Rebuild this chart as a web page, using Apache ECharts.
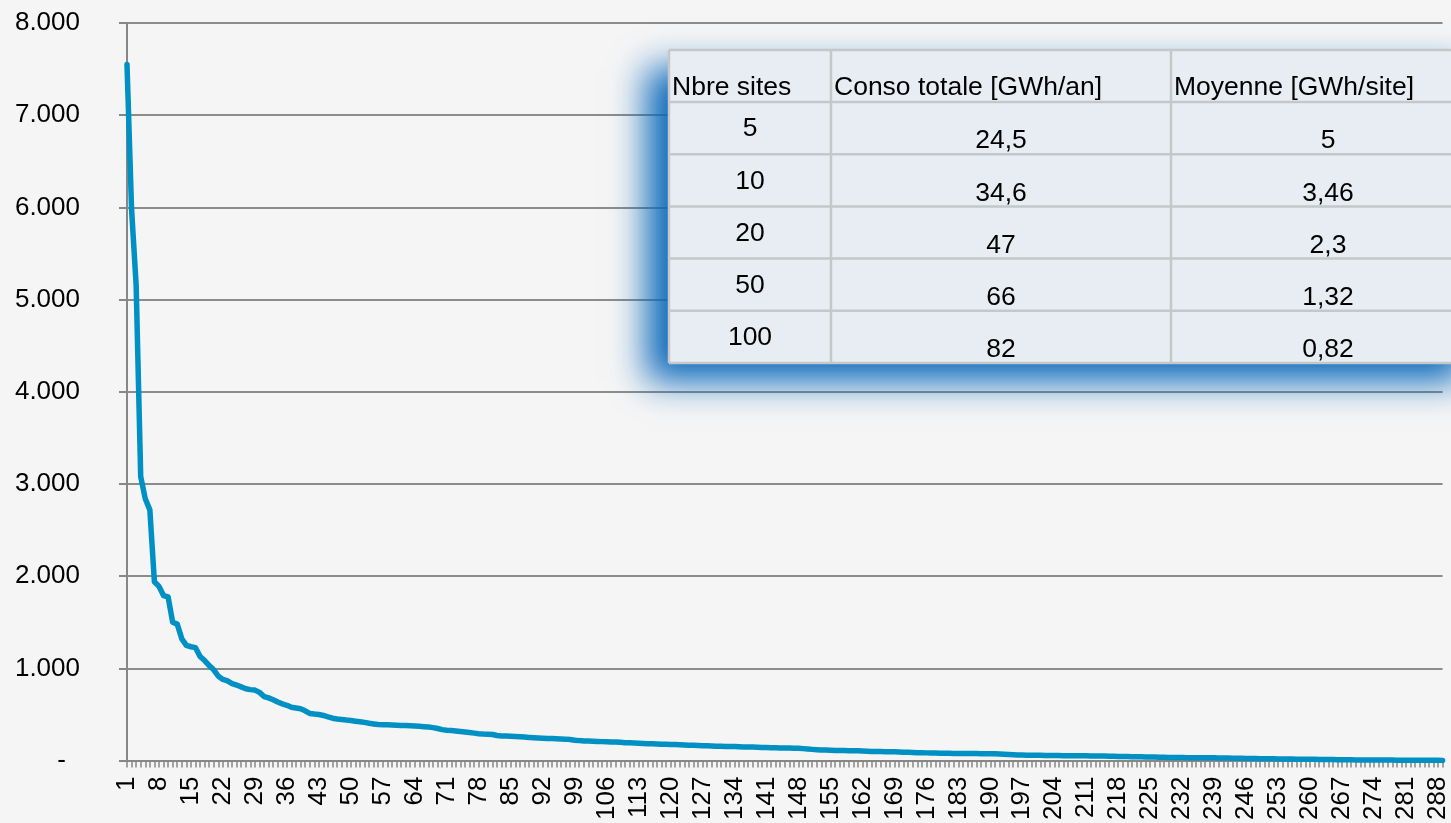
<!DOCTYPE html>
<html>
<head>
<meta charset="utf-8">
<title>Consommation par site</title>
<script src="https://cdn.jsdelivr.net/npm/echarts@6/dist/echarts.min.js"></script>
<style>
  html, body { margin: 0; padding: 0; background: #f5f5f5; }
  #chart { width: 1451px; height: 823px; }
</style>
</head>
<body>
<div id="chart"></div>
<script>
// Consumption per site, sorted in decreasing order (MWh/an)
const consoSites = [
  7550, 5980, 5160, 3080, 2840, 2720, 1940, 1890, 1790, 1775,
  1500, 1480, 1320, 1250, 1235, 1225, 1130, 1085, 1030, 985,
  915, 880, 865, 835, 820, 800, 780, 770, 765, 740,
  695, 680, 660, 635, 615, 600, 578, 570, 562, 540,
  512, 505, 500, 490, 475, 460, 452, 447, 440, 435,
  428, 422, 415, 405, 398, 392, 390, 388, 386, 384,
  382, 380, 378, 375, 372, 368, 364, 358, 348, 336,
  330, 326, 322, 316, 311, 305, 298, 292, 288, 286,
  283, 272, 268, 266, 264, 262, 259, 256, 252, 249,
  246, 243, 241, 239, 237, 235, 233, 228, 222, 217,
  214, 212, 210, 208, 206, 204, 203, 201, 198, 195,
  193, 191, 189, 186, 184, 182, 180, 178, 177, 176,
  174, 172, 170, 168, 166, 164, 162, 160, 159, 157,
  155, 154, 153, 152, 150, 149, 148, 147, 145, 143,
  141, 140, 139, 138, 137, 136, 135, 134, 130, 126,
  122, 119, 116, 114, 112, 111, 110, 109, 108, 107,
  106, 104, 102, 100, 99, 98, 97, 96, 95, 94,
  92, 90, 88, 86, 85, 84, 83, 82, 81, 80,
  79, 78, 78, 77, 77, 76, 76, 75, 75, 74,
  74, 72, 70, 67, 64, 62, 60, 59, 58, 57,
  57, 56, 56, 55, 55, 54, 54, 53, 53, 52,
  52, 51, 51, 50, 49, 48, 47, 46, 45, 44,
  43, 42, 41, 40, 39, 38, 37, 36, 35, 34,
  33, 33, 32, 32, 31, 31, 30, 30, 30, 29,
  29, 28, 27, 26, 25, 24, 23, 22, 21, 20,
  19, 19, 18, 18, 17, 17, 16, 16, 15, 15,
  14, 13, 12, 11, 11, 10, 10, 9, 9, 8,
  8, 8, 7, 7, 7, 6, 6, 6, 5, 5,
  5, 5, 4, 4, 4, 3, 3, 3, 2
];

// Site ranks used as categories (1 .. number of sites)
const rangs = consoSites.map((_, i) => String(i + 1));

// Summary table
const tableHeaders = ['Nbre sites', 'Conso totale [GWh/an]', 'Moyenne [GWh/site]'];
const nbreSites = ['5', '10', '20', '50', '100'];
const consoTotale = ['24,5', '34,6', '47', '66', '82'];
const moyenne = ['5', '3,46', '2,3', '1,32', '0,82'];

const FONT = '"Liberation Sans", Arial, Helvetica, sans-serif';
const AXIS_GREY = '#878787';

function fmtThousands(v) {
  if (v === 0) return '{dash|-}';
  return String(v).replace(/\B(?=(\d{3})+(?!\d))/g, '.');
}

// Table geometry
const tX = 669, tY = 50;
const colW = [162, 340, 314];
const headH = 52, rowH = 52.2;
const tW = colW.reduce((a, b) => a + b, 0);
const tH = headH + rowH * nbreSites.length;

function buildTable() {
  const els = [];
  els.push({
    type: 'rect', z: 100,
    shape: { x: tX, y: tY, width: tW, height: tH },
    style: {
      fill: '#e8edf3',
      shadowBlur: 34, shadowColor: '#0868bb',
      shadowOffsetX: -22, shadowOffsetY: 18
    }
  });
  const lineStyle = { stroke: '#c5c7c9', lineWidth: 2.5 };
  // horizontal rules
  for (let r = 0; r <= nbreSites.length + 1; r++) {
    const y = r === 0 ? tY : tY + headH + rowH * (r - 1);
    els.push({ type: 'line', z: 101, shape: { x1: tX, y1: y, x2: tX + tW, y2: y }, style: lineStyle });
  }
  // vertical rules
  let cx = tX;
  for (let c = 0; c <= colW.length; c++) {
    els.push({ type: 'line', z: 101, shape: { x1: cx, y1: tY, x2: cx, y2: tY + tH }, style: lineStyle });
    if (c < colW.length) cx += colW[c];
  }
  const colX = [tX, tX + colW[0], tX + colW[0] + colW[1]];
  const txt = (text, x, y, align) => ({
    type: 'text', z: 102,
    style: {
      text, x, y,
      font: '26.5px ' + FONT, fill: '#000',
      align, verticalAlign: 'middle',
      textAlign: align, textVerticalAlign: 'middle'
    }
  });
  tableHeaders.forEach((h, c) => els.push(txt(h, colX[c] + 3, tY + 38, 'left')));
  const cols = [nbreSites, consoTotale, moyenne];
  for (let r = 0; r < nbreSites.length; r++) {
    const top = tY + headH + rowH * r;
    cols.forEach((col, c) => {
      const yOff = c === 0 ? 27 : 39;
      els.push(txt(col[r], colX[c] + colW[c] / 2, top + yOff, 'center'));
    });
  }
  return els;
}

const chart = echarts.init(document.getElementById('chart'), null, { renderer: 'canvas' });
chart.setOption({
  backgroundColor: '#f5f5f5',
  animation: false,
  grid: { left: 127, right: 8, top: 23, bottom: 62, containLabel: false },
  xAxis: {
    type: 'category',
    data: rangs,
    boundaryGap: false,
    axisLine: { show: true, lineStyle: { color: AXIS_GREY, width: 2 } },
    axisTick: { show: true, interval: 0, length: 7, lineStyle: { color: AXIS_GREY, width: 1.5 } },
    axisLabel: {
      interval: 6, rotate: 90, margin: 16,
      color: '#000', fontFamily: FONT, fontSize: 26
    },
    splitLine: { show: false }
  },
  yAxis: {
    type: 'value',
    min: 0, max: 8000, interval: 1000,
    axisLine: { show: true, lineStyle: { color: AXIS_GREY, width: 2 } },
    axisTick: { show: true, length: 8, lineStyle: { color: AXIS_GREY, width: 2 } },
    axisLabel: {
      margin: 47, color: '#000', fontFamily: FONT, fontSize: 26,
      formatter: fmtThousands,
      rich: { dash: { fontFamily: FONT, fontSize: 26, color: '#000', padding: [0, 14, 0, 0] } }
    },
    splitLine: { show: true, lineStyle: { color: '#8c8c8c', width: 2 } }
  },
  series: [{
    type: 'line',
    data: consoSites,
    symbol: 'none',
    smooth: false,
    lineStyle: { color: '#0090c4', width: 5.5, join: 'round', cap: 'round' },
    z: 3
  }],
  graphic: { elements: buildTable() }
});
</script>
</body>
</html>
